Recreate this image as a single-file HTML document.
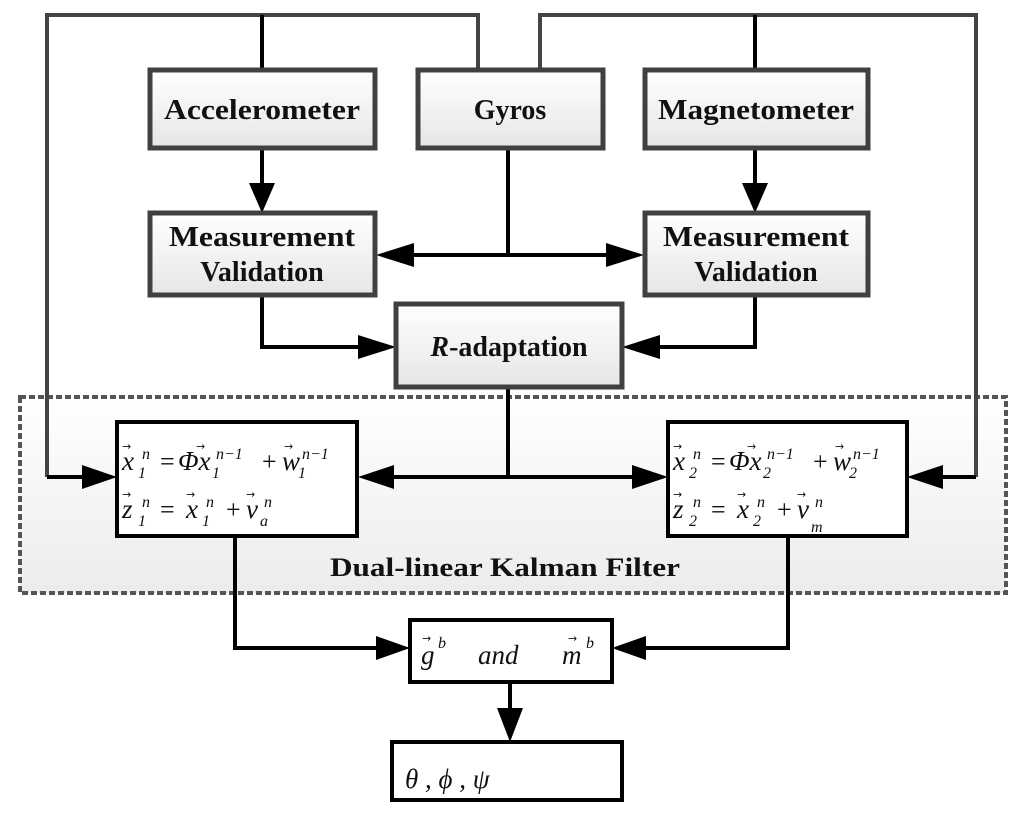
<!DOCTYPE html>
<html><head><meta charset="utf-8"><style>
html,body{margin:0;padding:0;background:#fff;}
svg{display:block;}
.b{font-family:"Liberation Serif",serif;font-weight:bold;font-size:28px;fill:#111;}
.m{font-family:"Liberation Serif",serif;font-style:italic;font-size:27px;fill:#111;}
.u{font-family:"Liberation Serif",serif;font-size:26px;fill:#111;}
.s{font-family:"Liberation Serif",serif;font-style:italic;font-size:16px;fill:#111;}
.a{font-family:"DejaVu Sans",sans-serif;font-size:11px;fill:#111;}
</style></head><body>
<svg width="1024" height="817" viewBox="0 0 1024 817" xmlns="http://www.w3.org/2000/svg">
<defs>
<linearGradient id="g" x1="0" y1="0" x2="0" y2="1"><stop offset="0" stop-color="#ffffff"/><stop offset="1" stop-color="#e6e6e6"/></linearGradient>
<linearGradient id="g2" x1="0" y1="0" x2="0" y2="1"><stop offset="0" stop-color="#ffffff"/><stop offset="1" stop-color="#ececec"/></linearGradient>
</defs>
<rect x="20" y="397" width="986" height="196" fill="url(#g2)" stroke="#555" stroke-width="4" stroke-dasharray="6,3"/>
<polyline points="47,477 47,15 478,15 478,70" fill="none" stroke="#444" stroke-width="4"/>
<line x1="262" y1="15" x2="262" y2="70" stroke="#000" stroke-width="4"/>
<polyline points="976,477 976,15 540,15 540,70" fill="none" stroke="#444" stroke-width="4"/>
<line x1="755" y1="15" x2="755" y2="70" stroke="#000" stroke-width="4"/>
<g stroke="#000" stroke-width="4" fill="none">
<line x1="262" y1="148" x2="262" y2="185"/>
<line x1="755" y1="148" x2="755" y2="185"/>
<line x1="508" y1="148" x2="508" y2="255"/>
<line x1="410" y1="255" x2="610" y2="255"/>
<polyline points="262,295 262,347 370,347"/>
<polyline points="755,295 755,347 645,347"/>
<line x1="508" y1="387" x2="508" y2="477"/>
<line x1="390" y1="477" x2="632" y2="477"/>
<line x1="47" y1="477" x2="85" y2="477"/>
<line x1="976" y1="477" x2="940" y2="477"/>
<polyline points="235,536 235,648 378,648"/>
<polyline points="788,536 788,648 645,648"/>
<line x1="510" y1="682" x2="510" y2="710"/>
</g>
<g fill="#000">
<polygon points="249,183 275,183 262,213"/>
<polygon points="742,183 768,183 755,213"/>
<polygon points="376,255 414,243 414,267"/>
<polygon points="644,255 606,243 606,267"/>
<polygon points="396,347 358,335 358,359"/>
<polygon points="622,347 660,335 660,359"/>
<polygon points="117,477 82,465 82,489"/>
<polygon points="907,477 943,465 943,489"/>
<polygon points="358,477 394,465 394,489"/>
<polygon points="668,477 632,465 632,489"/>
<polygon points="410,648 376,636 376,660"/>
<polygon points="612,648 646,636 646,660"/>
<polygon points="497,708 523,708 510,742"/>
</g>
<g stroke="#404040" stroke-width="5" fill="url(#g)">
<rect x="150" y="70" width="225" height="78"/>
<rect x="418" y="70" width="185" height="78"/>
<rect x="645" y="70" width="223" height="78"/>
<rect x="150" y="213" width="225" height="82"/>
<rect x="645" y="213" width="223" height="82"/>
<rect x="396" y="304" width="226" height="83"/>
</g>
<g stroke="#000" stroke-width="4" fill="#fff">
<rect x="117" y="422" width="240" height="114"/>
<rect x="668" y="422" width="239" height="114"/>
<rect x="410" y="620" width="202" height="62"/>
<rect x="392" y="742" width="230" height="58"/>
</g>
<g class="b" text-anchor="middle">
<text x="262" y="119" textLength="196" lengthAdjust="spacingAndGlyphs">Accelerometer</text>
<text x="510" y="119">Gyros</text>
<text x="756" y="119" textLength="196" lengthAdjust="spacingAndGlyphs">Magnetometer</text>
<text x="262" y="246" textLength="186" lengthAdjust="spacingAndGlyphs">Measurement</text>
<text x="262" y="281">Validation</text>
<text x="756" y="246" textLength="186" lengthAdjust="spacingAndGlyphs">Measurement</text>
<text x="756" y="281">Validation</text>
<text x="509" y="356"><tspan font-style="italic">R</tspan>-adaptation</text>
<text x="505" y="576" font-size="26" textLength="350" lengthAdjust="spacingAndGlyphs">Dual-linear Kalman Filter</text>
</g>
<!-- left KF equations -->
<g>
<text class="m" x="122" y="470">x</text><text class="a" x="122" y="450">→</text><text class="s" x="142" y="459">n</text><text class="s" x="138" y="478">1</text>
<text class="u" x="160" y="470">=</text>
<text class="m" x="178" y="470">Φx</text><text class="a" x="196" y="450">→</text><text class="s" x="216" y="459">n−1</text><text class="s" x="212" y="478">1</text>
<text class="u" x="262" y="470">+</text>
<text class="m" x="282" y="470">w</text><text class="a" x="284" y="450">→</text><text class="s" x="302" y="459">n−1</text><text class="s" x="298" y="478">1</text>
<text class="m" x="122" y="518">z</text><text class="a" x="122" y="498">→</text><text class="s" x="142" y="507">n</text><text class="s" x="138" y="526">1</text>
<text class="u" x="160" y="518">=</text>
<text class="m" x="186" y="518">x</text><text class="a" x="186" y="498">→</text><text class="s" x="206" y="507">n</text><text class="s" x="202" y="526">1</text>
<text class="u" x="226" y="518">+</text>
<text class="m" x="246" y="518">v</text><text class="a" x="246" y="498">→</text><text class="s" x="264" y="507">n</text><text class="s" x="260" y="526">a</text>
</g>
<!-- right KF equations -->
<g>
<text class="m" x="673" y="470">x</text><text class="a" x="673" y="450">→</text><text class="s" x="693" y="459">n</text><text class="s" x="689" y="478">2</text>
<text class="u" x="711" y="470">=</text>
<text class="m" x="729" y="470">Φx</text><text class="a" x="747" y="450">→</text><text class="s" x="767" y="459">n−1</text><text class="s" x="763" y="478">2</text>
<text class="u" x="813" y="470">+</text>
<text class="m" x="833" y="470">w</text><text class="a" x="835" y="450">→</text><text class="s" x="853" y="459">n−1</text><text class="s" x="849" y="478">2</text>
<text class="m" x="673" y="518">z</text><text class="a" x="673" y="498">→</text><text class="s" x="693" y="507">n</text><text class="s" x="689" y="526">2</text>
<text class="u" x="711" y="518">=</text>
<text class="m" x="737" y="518">x</text><text class="a" x="737" y="498">→</text><text class="s" x="757" y="507">n</text><text class="s" x="753" y="526">2</text>
<text class="u" x="777" y="518">+</text>
<text class="m" x="797" y="518">v</text><text class="a" x="797" y="498">→</text><text class="s" x="815" y="507">n</text><text class="s" x="811" y="532">m</text>
</g>
<!-- g and m -->
<g>
<text class="m" x="421" y="664" font-size="30">g</text><text class="a" x="422" y="642">→</text><text class="s" x="438" y="648">b</text>
<text class="m" x="478" y="664" font-size="30">and</text>
<text class="m" x="562" y="664" font-size="30">m</text><text class="a" x="568" y="642">→</text><text class="s" x="586" y="648">b</text>
</g>
<text class="m" x="405" y="788" font-size="36">θ ,  ϕ ,  ψ</text>
</svg>
</body></html>
